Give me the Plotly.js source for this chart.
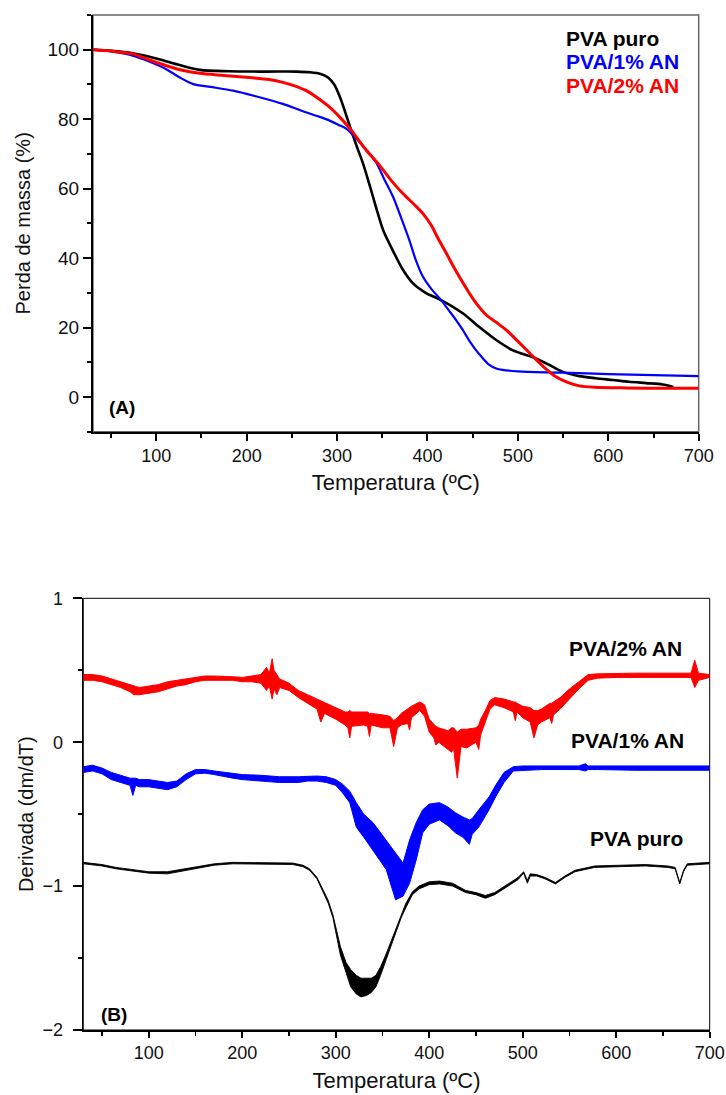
<!DOCTYPE html>
<html>
<head>
<meta charset="utf-8">
<script src="https://cdn.plot.ly/plotly-3.0.1.min.js"></script>
<style>html,body{margin:0;padding:0;background:#fff;}#chart{width:726px;height:1095px;}</style>
</head>
<body>
<div id="chart"></div>
<script>
// ---------- (A) TGA: mass (%) vs temperature (°C) ----------
const tgaTempPuro = [30,50,74,100,120,148,180,220,255,270, 282,290,297,304,310,316,322,329,336,343, 351,362,372,384,398,415,439,457,476,494, 520,535,549,568,586,605,623,642,660,672];
const tgaMassPuro = [100,99.7,99.0,97.5,96.0,94.2,93.8,93.7,93.7,93.5, 93.0,92.0,89.9,85.8,81.2,76.5,72.0,67.0,61.0,54.7, 48.0,42.0,37.0,32.7,30.0,27.9,24.1,20.2,16.4,13.5, 11.1,9.2,7.3,6.0,5.4,4.9,4.4,4.0,3.6,2.9];

const tgaTemp1AN = [30,50,74,90,111,126,141,160,185,210, 240,260,277,290,303,310,318,330,343,352, 362,371,380,387,395,404,415,424,432,439, 446,453,460,468,476,483,500,530,549,600, 650,700];
const tgaMass1AN = [100,99.5,98.3,96.8,94.4,92.0,90.1,89.3,88.2,86.6, 84.4,82.5,81.0,79.8,78.2,77.3,75.3,71.8,67.6,62.8, 57.6,51.5,45.1,39.5,34.6,31.2,27.9,24.8,22.0,19.3, 16.3,13.7,11.5,9.3,8.2,7.8,7.4,7.1,7.0,6.6, 6.3,6.0];

const tgaTemp2AN = [30,50,74,90,111,130,148,175,203,225,240,253,266,280,292,304,316,331,347,360,373,385,395,404,412,421,431,442,453,465,476,487,502,517,530,542,555,568,585,620,660,700];
const tgaMass2AN = [100,99.6,98.8,97.3,95.4,94.0,93.2,92.6,92.0,91.4,90.6,89.6,88.2,85.8,83.4,80.3,76.7,71.5,66.7,62.3,58.5,55.5,52.8,49.5,45.5,41.3,36.5,31.7,27.3,23.6,21.5,19.3,15.5,11.6,8.3,5.8,4.2,3.2,2.8,2.6,2.5,2.5];

// ---------- (B) DTG: derivative (dm/dT) — noise envelope (low / high) ----------
const dtgTemp2AN = [30,40,50,60,70,80,84,90,100,110, 120,130,140,150,160,170,180,190,200,210, 220,226,229,232,234,237,240,250,260,270, 280,284,288,300,310,313,315,317,330,334, 336,338,350,358,362,366,370,377,379,381, 390,395,400,405,407,410,420,424,426,430, 434,440,450,453,455,460,465,470,480,490, 492,494,500,508,512,516,520,529,531,533, 540,550,560,570,580,600,620,640,660,680, 684,688,700];
const dtgLow2AN  = [0.43,0.43,0.42,0.40,0.38,0.35,0.33,0.33,0.34,0.35, 0.37,0.39,0.40,0.42,0.43,0.43,0.43,0.43,0.42,0.42, 0.41,0.36,0.39,0.30,0.37,0.33,0.38,0.36,0.31,0.27, 0.23,0.14,0.20,0.16,0.12,0.10,0.03,0.11,0.12,0.11, 0.04,0.12,0.10,0.10,-0.03,0.10,0.12,0.13,0.085,0.17, 0.22,0.18,0.07,0.03,-0.02,0.0,-0.05,-0.07,-0.04,-0.25, -0.03,-0.04,0.0,-0.05,0.05,0.14,0.23,0.26,0.24,0.21, 0.15,0.21,0.17,0.14,0.03,0.12,0.14,0.17,0.13,0.19, 0.23,0.30,0.37,0.43,0.445,0.45,0.45,0.45,0.45,0.45, 0.38,0.43,0.45];
const dtgHigh2AN = [0.47,0.47,0.46,0.44,0.42,0.40,0.39,0.38,0.39,0.40, 0.42,0.43,0.44,0.45,0.46,0.46,0.46,0.455,0.45,0.46, 0.47,0.52,0.48,0.58,0.50,0.47,0.44,0.41,0.36,0.33, 0.30,0.29,0.28,0.24,0.21,0.21,0.22,0.21,0.21,0.21, 0.20,0.20,0.19,0.18,0.15,0.17,0.20,0.23,0.24,0.25, 0.28,0.26,0.16,0.12,0.11,0.10,0.08,0.10,0.10,0.07, 0.09,0.09,0.10,0.12,0.16,0.22,0.29,0.31,0.30,0.28, 0.28,0.27,0.25,0.24,0.22,0.22,0.23,0.27,0.27,0.28, 0.31,0.37,0.42,0.47,0.475,0.48,0.48,0.48,0.48,0.48, 0.57,0.48,0.47];

const dtgTemp1AN = [30,40,50,60,70,80,83,86,90,100,110,120,130,140,150,160,170,180,190,200,220,240,260,270,280,290,300,307,315,322,330,340,354,364,372,379,386,393,400,411,420,428,436,443,446,453,464,471,480,490,500,520,540,560,567,570,580,600,620,640,660,680,700];
const dtgLow1AN  = [-0.21,-0.20,-0.22,-0.26,-0.28,-0.30,-0.37,-0.30,-0.31,-0.31,-0.32,-0.33,-0.31,-0.26,-0.22,-0.215,-0.225,-0.24,-0.25,-0.26,-0.27,-0.28,-0.28,-0.27,-0.27,-0.28,-0.30,-0.35,-0.42,-0.59,-0.66,-0.75,-0.885,-1.095,-1.07,-0.98,-0.82,-0.63,-0.57,-0.54,-0.58,-0.63,-0.66,-0.71,-0.64,-0.59,-0.47,-0.38,-0.28,-0.20,-0.195,-0.19,-0.19,-0.19,-0.20,-0.19,-0.19,-0.195,-0.195,-0.195,-0.195,-0.195,-0.195];
const dtgHigh1AN = [-0.17,-0.16,-0.18,-0.21,-0.23,-0.25,-0.25,-0.25,-0.26,-0.26,-0.27,-0.28,-0.27,-0.22,-0.19,-0.19,-0.20,-0.21,-0.22,-0.225,-0.23,-0.24,-0.24,-0.235,-0.235,-0.24,-0.26,-0.29,-0.34,-0.42,-0.50,-0.56,-0.68,-0.77,-0.84,-0.68,-0.56,-0.47,-0.43,-0.42,-0.45,-0.49,-0.52,-0.54,-0.53,-0.47,-0.38,-0.30,-0.21,-0.17,-0.165,-0.165,-0.165,-0.165,-0.15,-0.165,-0.165,-0.165,-0.165,-0.165,-0.165,-0.165,-0.165];

const dtgTempPuro = [30,50,65,80,100,120,140,155,170,190,220,254,265,272,280,286,292,297,301,305,311,316,322,327,333,338,343,348,354,360,365,370,375,382,389,400,411,425,439,450,460,470,482,495,501,505,508,515,524,535,545,556,577,600,631,655,663,668,672,676,700];
const dtgLowPuro  = [-0.845,-0.86,-0.88,-0.895,-0.91,-0.915,-0.89,-0.87,-0.855,-0.845,-0.845,-0.85,-0.865,-0.89,-0.95,-1.03,-1.12,-1.22,-1.35,-1.48,-1.60,-1.70,-1.75,-1.77,-1.76,-1.74,-1.70,-1.62,-1.51,-1.40,-1.31,-1.22,-1.15,-1.06,-1.02,-0.99,-0.985,-1.0,-1.045,-1.06,-1.085,-1.06,-1.01,-0.955,-0.91,-0.98,-0.93,-0.93,-0.95,-0.985,-0.94,-0.90,-0.87,-0.865,-0.86,-0.87,-0.88,-0.985,-0.9,-0.855,-0.845];
const dtgHighPuro = [-0.835,-0.85,-0.87,-0.885,-0.90,-0.90,-0.88,-0.86,-0.845,-0.835,-0.835,-0.84,-0.855,-0.88,-0.94,-1.02,-1.10,-1.20,-1.32,-1.42,-1.53,-1.58,-1.62,-1.64,-1.64,-1.64,-1.62,-1.56,-1.47,-1.37,-1.28,-1.19,-1.12,-1.04,-1.0,-0.97,-0.965,-0.98,-1.03,-1.045,-1.065,-1.045,-0.995,-0.94,-0.90,-0.96,-0.915,-0.92,-0.94,-0.975,-0.93,-0.89,-0.86,-0.855,-0.85,-0.86,-0.87,-0.975,-0.89,-0.845,-0.835];

const seriesNames = ["PVA puro", "PVA/1% AN", "PVA/2% AN"];
const seriesColors = ["#000000", "#0000ff", "#ff0000"];
const xTitle = "Temperatura (ºC)";
const yTitleA = "Perda de massa (%)";
const yTitleB = "Derivada (dm/dT)";

const W = 726, H = 1095;
const px = v => v / W;
const py = v => 1 - v / H;
const FONT = "Arial, 'Liberation Sans', sans-serif";

function band(x, lo, hi, color, name, w) {
  return [
    {x: x, y: lo, xaxis: 'x2', yaxis: 'y2', mode: 'lines', line: {color: color, width: w}, name: name, hoverinfo: 'skip'},
    {x: x, y: hi, xaxis: 'x2', yaxis: 'y2', mode: 'lines', line: {color: color, width: w}, fill: 'tonexty', fillcolor: color, name: name}
  ];
}

const traces = [
  {x: tgaTempPuro, y: tgaMassPuro, xaxis: 'x', yaxis: 'y', mode: 'lines', name: seriesNames[0], line: {color: seriesColors[0], width: 2.6, shape: 'spline', smoothing: 0.8}},
  {x: tgaTemp1AN, y: tgaMass1AN, xaxis: 'x', yaxis: 'y', mode: 'lines', name: seriesNames[1], line: {color: seriesColors[1], width: 2.2, shape: 'spline', smoothing: 0.8}},
  {x: tgaTemp2AN, y: tgaMass2AN, xaxis: 'x', yaxis: 'y', mode: 'lines', name: seriesNames[2], line: {color: seriesColors[2], width: 3, shape: 'spline', smoothing: 0.8}},
  ...band(dtgTemp2AN, dtgLow2AN, dtgHigh2AN, seriesColors[2], seriesNames[2], 1),
  ...band(dtgTemp1AN, dtgLow1AN, dtgHigh1AN, seriesColors[1], seriesNames[1], 1),
  ...band(dtgTempPuro, dtgLowPuro, dtgHighPuro, seriesColors[0], seriesNames[0], 0.9)
];

const tickFontX = {family: FONT, size: 18, color: '#111'};
const tickFontYA = {family: FONT, size: 19, color: '#111'};
const tickFontYB = {family: FONT, size: 18, color: '#111'};
const xTitleFont = {family: FONT, size: 22, color: '#111'};
const yTitleFont = {family: FONT, size: 20, color: '#111'};

const layout = {
  width: W, height: H,
  margin: {l: 0, r: 0, t: 0, b: 0},
  paper_bgcolor: '#fff', plot_bgcolor: '#fff',
  showlegend: false,
  font: {family: FONT},
  xaxis: {
    domain: [px(93), px(698.7)], anchor: 'y', range: [30, 700],
    showline: true, linecolor: '#000', linewidth: 2, showgrid: false, zeroline: false,
    ticks: 'outside', ticklen: 7, tickwidth: 2, tickcolor: '#000', tick0: 0, dtick: 100,
    minor: {ticks: 'outside', ticklen: 4, tickwidth: 2, tickcolor: '#000', tick0: 0, dtick: 50, showgrid: false},
    tickfont: tickFontX,
    title: {text: xTitle, font: xTitleFont, standoff: 9}
  },
  yaxis: {
    domain: [py(431.7), py(15)], anchor: 'x', range: [-10, 110],
    showline: true, linecolor: '#000', linewidth: 2, showgrid: false, zeroline: false,
    ticks: 'outside', ticklen: 8, tickwidth: 2, tickcolor: '#000', tick0: 0, dtick: 20,
    minor: {ticks: 'outside', ticklen: 4, tickwidth: 2, tickcolor: '#000', tick0: 0, dtick: 10, showgrid: false},
    tickfont: tickFontYA,
    title: {text: yTitleA, font: yTitleFont, standoff: 11}
  },
  xaxis2: {
    domain: [px(83.3), px(709.7)], anchor: 'y2', range: [30, 700],
    showline: true, linecolor: '#000', linewidth: 1.6, showgrid: false, zeroline: false,
    ticks: 'outside', ticklen: 6, tickwidth: 1.6, tickcolor: '#000', tick0: 0, dtick: 100,
    minor: {ticks: 'outside', ticklen: 4, tickwidth: 1.6, tickcolor: '#000', tick0: 0, dtick: 50, showgrid: false},
    tickfont: tickFontX,
    title: {text: xTitle, font: xTitleFont, standoff: 10}
  },
  yaxis2: {
    domain: [py(1030), py(598.3)], anchor: 'x2', range: [-2, 1],
    showline: true, linecolor: '#000', linewidth: 1.6, showgrid: false, zeroline: false,
    ticks: 'outside', ticklen: 9, tickwidth: 1.6, tickcolor: '#000', tick0: 0, dtick: 1,
    minor: {ticks: 'outside', ticklen: 4, tickwidth: 1.6, tickcolor: '#000', tick0: 0, dtick: 0.5, showgrid: false},
    tickfont: tickFontYB, ticklabelstandoff: 6,
    title: {text: yTitleB, font: yTitleFont, standoff: 3}
  },
  shapes: [
    {type: 'rect', xref: 'x domain', yref: 'y domain', x0: 0, x1: 1, y0: 0, y1: 1, line: {color: '#666', width: 1.5}, layer: 'below'},
    {type: 'rect', xref: 'x2 domain', yref: 'y2 domain', x0: 0, x1: 1, y0: 0, y1: 1, line: {color: '#000', width: 1}, layer: 'below'}
  ],
  annotations: [
    {xref: 'paper', yref: 'paper', x: px(564), y: py(38), xanchor: 'left', yanchor: 'middle', showarrow: false, text: '<b>' + seriesNames[0] + '</b>', font: {family: FONT, size: 21, color: seriesColors[0]}},
    {xref: 'paper', yref: 'paper', x: px(564), y: py(62), xanchor: 'left', yanchor: 'middle', showarrow: false, text: '<b>' + seriesNames[1] + '</b>', font: {family: FONT, size: 21, color: seriesColors[1]}},
    {xref: 'paper', yref: 'paper', x: px(564), y: py(86), xanchor: 'left', yanchor: 'middle', showarrow: false, text: '<b>' + seriesNames[2] + '</b>', font: {family: FONT, size: 21, color: seriesColors[2]}},
    {xref: 'paper', yref: 'paper', x: px(107), y: py(407), xanchor: 'left', yanchor: 'middle', showarrow: false, text: '<b>(A)</b>', font: {family: FONT, size: 19, color: '#000'}},
    {xref: 'paper', yref: 'paper', x: px(567), y: py(648), xanchor: 'left', yanchor: 'middle', showarrow: false, text: '<b>' + seriesNames[2] + '</b>', font: {family: FONT, size: 21, color: '#000'}},
    {xref: 'paper', yref: 'paper', x: px(569), y: py(740), xanchor: 'left', yanchor: 'middle', showarrow: false, text: '<b>' + seriesNames[1] + '</b>', font: {family: FONT, size: 21, color: '#000'}},
    {xref: 'paper', yref: 'paper', x: px(588), y: py(838), xanchor: 'left', yanchor: 'middle', showarrow: false, text: '<b>' + seriesNames[0] + '</b>', font: {family: FONT, size: 21, color: '#000'}},
    {xref: 'paper', yref: 'paper', x: px(99), y: py(1014), xanchor: 'left', yanchor: 'middle', showarrow: false, text: '<b>(B)</b>', font: {family: FONT, size: 19, color: '#000'}}
  ]
};

Plotly.newPlot('chart', traces, layout, {staticPlot: true, displayModeBar: false});
</script>
</body>
</html>
